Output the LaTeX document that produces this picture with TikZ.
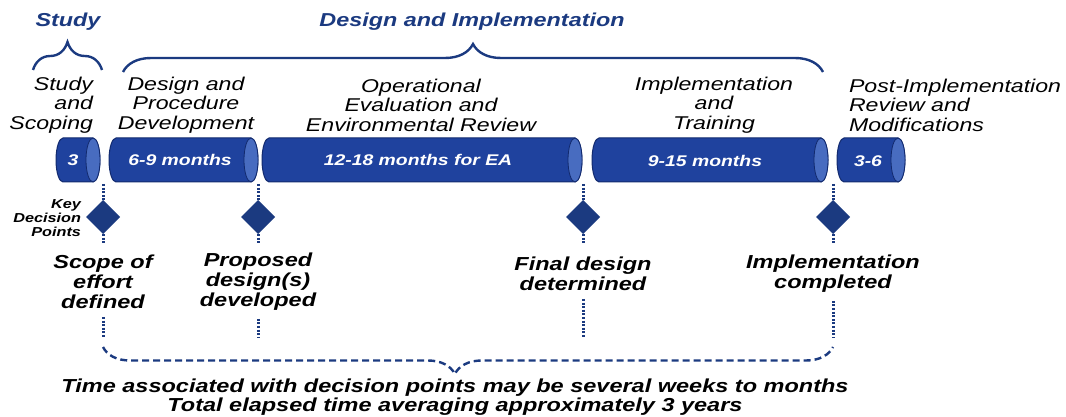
\documentclass[tikz,border=0pt]{standalone}
\usepackage{fontspec}
\setmainfont{Liberation Sans}[FakeStretch=1.25]
\usetikzlibrary{shapes.geometric,decorations.pathreplacing}
\definecolor{navy}{RGB}{27,58,128}
\definecolor{tubeblue}{RGB}{31,66,158}
\definecolor{tubeface}{RGB}{72,108,192}
\definecolor{tubeedge}{RGB}{18,42,110}

\begin{document}
\begin{tikzpicture}[x=1pt,y=-1pt,
  every node/.style={inner sep=2pt, outer sep=0pt},
  head/.style={font=\fontsize{18.7}{20}\selectfont\bfseries\itshape, text=navy},
  phase/.style={font=\fontsize{18.5}{19.5}\selectfont\itshape, align=center},
  tube/.style={fill=tubeblue, draw=tubeedge, line width=1pt},
  tubeend/.style={fill=tubeface, draw=tubeedge, line width=0.8pt},
  span/.style={text=white, font=\fontsize{15.5}{16}\selectfont\bfseries\itshape},
  dp/.style={diamond, fill=navy, minimum size=34pt, inner sep=0pt},
  dotline/.style={navy, line width=3pt, dash pattern=on 2pt off 1.6pt},
  result/.style={font=\fontsize{18.8}{20}\selectfont\bfseries\itshape, align=center, inner ysep=8pt},
  curly/.style={navy, line width=2.4pt, decorate, decoration={brace, amplitude=28pt}}]
\useasboundingbox (0,0) rectangle (1066,417);

% headings and braces
\node[head] (study) at (68,22) {Study};
\node[head] (design) at (472,22) {Design and Implementation};
\draw[curly] (33,70) -- (102,70);
\draw[curly] (123,72) -- (823,72);

% phases
\node[phase, align=right, anchor=east] (p1) at (95,105) {Study\\and\\Scoping};
\node[phase] (p2) at (186,105) {Design and\\Procedure\\Development};
\node[phase] (p3) at (421,105) {Operational\\Evaluation and\\Environmental Review};
\node[phase] (p4) at (714,105) {Implementation\\and\\Training};
\node[phase, align=left, anchor=west] (p5) at (847,105) {Post-Implementation\\Review and\\Modifications};

% tubes
\filldraw[tube] (63,138) -- (93,138) arc[start angle=-90,end angle=90,x radius=7,y radius=22] -- (63,182) arc[start angle=90,end angle=270,x radius=7,y radius=22] -- cycle;
\filldraw[tubeend] (93,160) ellipse[x radius=7,y radius=22];
\filldraw[tube] (116,138) -- (251,138) arc[start angle=-90,end angle=90,x radius=7,y radius=22] -- (116,182) arc[start angle=90,end angle=270,x radius=7,y radius=22] -- cycle;
\filldraw[tubeend] (251,160) ellipse[x radius=7,y radius=22];
\filldraw[tube] (269,138) -- (575,138) arc[start angle=-90,end angle=90,x radius=7,y radius=22] -- (269,182) arc[start angle=90,end angle=270,x radius=7,y radius=22] -- cycle;
\filldraw[tubeend] (575,160) ellipse[x radius=7,y radius=22];
\filldraw[tube] (599,138) -- (821,138) arc[start angle=-90,end angle=90,x radius=7,y radius=22] -- (599,182) arc[start angle=90,end angle=270,x radius=7,y radius=22] -- cycle;
\filldraw[tubeend] (821,160) ellipse[x radius=7,y radius=22];
\filldraw[tube] (844,138) -- (898,138) arc[start angle=-90,end angle=90,x radius=7,y radius=22] -- (844,182) arc[start angle=90,end angle=270,x radius=7,y radius=22] -- cycle;
\filldraw[tubeend] (898,160) ellipse[x radius=7,y radius=22];

\node[span] (m1) at (73,160) {3};
\node[span] (m2) at (180,160) {6-9 months};
\node[span] (m3) at (418,160) {12-18 months for EA};
\node[span] (m4) at (705,161) {9-15 months};
\node[span] (m5) at (868,161) {3-6};

% decision points
\node[font=\fontsize{13}{14}\selectfont\bfseries\itshape, align=right, anchor=east] (kdp) at (83,218) {Key\\Decision\\Points};
\node[dp] (d1) at (103,217) {};
\node[dp] (d2) at (258,217) {};
\node[dp] (d3) at (583,217) {};
\node[dp] (d4) at (833,217) {};

\node[result] (r1) at (103,282) {Scope of\\effort\\defined};
\node[result] (r2) at (258,282) {Proposed\\design(s)\\developed};
\node[result] (r3) at (583,274) {Final design\\determined};
\node[result] (r4) at (833,274) {Implementation\\completed};

\coordinate (j1) at (103,184);
\coordinate (j2) at (258,184);
\coordinate (j3) at (583,184);
\coordinate (j4) at (833,184);
\coordinate (k1) at (103,244);
\coordinate (k2) at (258,244);
\coordinate (k3) at (583,244);
\coordinate (k4) at (833,244);
\coordinate (b1) at (103,337);
\coordinate (b2) at (258,337);
\coordinate (b3) at (583,337);
\coordinate (b4) at (833,337);

\draw[dotline] (j1) -- (d1);
\draw[dotline] (j2) -- (d2);
\draw[dotline] (j3) -- (d3);
\draw[dotline] (j4) -- (d4);
\draw[dotline] (d1) -- (k1);
\draw[dotline] (d2) -- (k2);
\draw[dotline] (d3) -- (k3);
\draw[dotline] (d4) -- (k4);
\draw[dotline] (r1) -- (b1);
\draw[dotline] (r2) -- (b2);
\draw[dotline] (r3) -- (b3);
\draw[dotline] (r4) -- (b4);

% overall time
\draw[curly, line width=2.4pt, dash pattern=on 7pt off 4pt, decoration={mirror, aspect=0.482, amplitude=27pt}] (103,347) -- (833,347);
\node[font=\fontsize{18.8}{19}\selectfont\bfseries\itshape, align=center] (note) at (455,397) {Time associated with decision points may be several weeks to months\\Total elapsed time averaging approximately 3 years};
\end{tikzpicture}
\end{document}
